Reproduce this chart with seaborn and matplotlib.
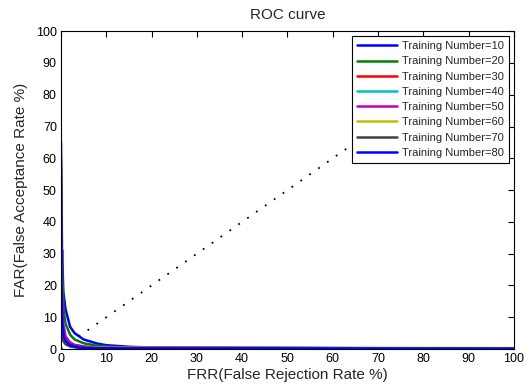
import matplotlib
matplotlib.use("Agg")
import matplotlib.pyplot as plt
import seaborn as sns
import pandas as pd

labels = ["Training Number=10", "Training Number=20", "Training Number=30",
          "Training Number=40", "Training Number=50", "Training Number=60",
          "Training Number=70", "Training Number=80"]
colors = ["#0000ff", "#008000", "#ff0000", "#00bfbf", "#bf00bf", "#bfbf00", "#404040", "#0000ff"]

frr_10 = [0.3, 0.3, 0.5, 1, 2, 3, 5, 8, 10, 15, 20, 40, 60, 100]
far_10 = [31, 28, 18, 12.5, 7, 5, 3, 1.7, 1.2, 0.7, 0.45, 0.35, 0.3, 0.25]
frr_20 = [0, 0.3, 0.6, 1, 2, 3, 5, 8, 12, 20, 100]
far_20 = [60, 22, 12, 8, 4.5, 3, 1.8, 1.0, 0.6, 0.3, 0.15]
frr_30 = [0, 0.3, 0.6, 1, 2, 3, 5, 8, 100]
far_30 = [40, 8, 5, 3.5, 2, 1.3, 0.8, 0.4, 0.1]
frr_40 = [0, 0.3, 0.6, 1, 2, 4, 100]
far_40 = [30, 6, 3.5, 2.5, 1.2, 0.5, 0.1]
frr_50 = [0, 0.2, 0.5, 1, 2, 3, 6, 100]
far_50 = [57, 15, 8, 4, 2, 1.2, 0.5, 0.1]
frr_60 = [0, 0.2, 0.5, 1, 2, 4, 100]
far_60 = [25, 5, 3, 1.8, 1.0, 0.4, 0.1]
frr_70 = [0, 0.2, 0.5, 1, 2, 4, 100]
far_70 = [20, 4, 2.5, 1.5, 0.8, 0.3, 0.1]
frr_80 = [0, 0.1, 0.3, 0.6, 1, 2, 4, 8, 100]
far_80 = [65, 20, 8, 4, 2.5, 1.2, 0.5, 0.2, 0.05]
diag = [0, 100]

series = [(frr_10, far_10), (frr_20, far_20), (frr_30, far_30), (frr_40, far_40),
          (frr_50, far_50), (frr_60, far_60), (frr_70, far_70), (frr_80, far_80)]
rows = []
for lab, (xs, ys) in zip(labels, series):
    for i, (x, y) in enumerate(zip(xs, ys)):
        rows.append({"FRR": x, "FAR": y, "label": lab, "order": i})
df = pd.DataFrame(rows)

sns.set_style("white")
plt.rcParams["font.family"] = ["Liberation Sans", "DejaVu Sans"]

fig = plt.figure(figsize=(5.26, 3.85), dpi=100)
ax = fig.add_axes([0.116, 0.0935, 0.861, 0.8255])

ax.plot(diag, diag, color="black", linestyle=(0, (1, 5)), linewidth=1.3, zorder=1)
sns.lineplot(data=df, x="FRR", y="FAR", hue="label", palette=colors, sort=False,
             estimator=None, linewidth=1.8, ax=ax, zorder=2)

ax.set_xlim(0, 100)
ax.set_ylim(0, 100)
ax.set_xticks(range(0, 101, 10))
ax.set_yticks(range(0, 101, 10))
ax.tick_params(direction="in", top=True, right=True, length=4, width=0.8,
               labelsize=9, colors="black", pad=3)
for s in ax.spines.values():
    s.set_color("black")
    s.set_linewidth(0.8)
ax.set_title("ROC curve", fontsize=11, pad=9)
ax.set_xlabel("FRR(False Rejection Rate %)", fontsize=11, labelpad=2)
ax.set_ylabel("FAR(False Acceptance Rate %)", fontsize=11, labelpad=6)

leg = ax.legend(loc="upper right", fontsize=8, handlelength=3.6, frameon=True,
                fancybox=False, edgecolor="black", framealpha=1, borderpad=0.45,
                labelspacing=0.47, handletextpad=0.45, borderaxespad=0.45)
leg.get_frame().set_linewidth(0.8)

fig.savefig("out.png", dpi=100)
